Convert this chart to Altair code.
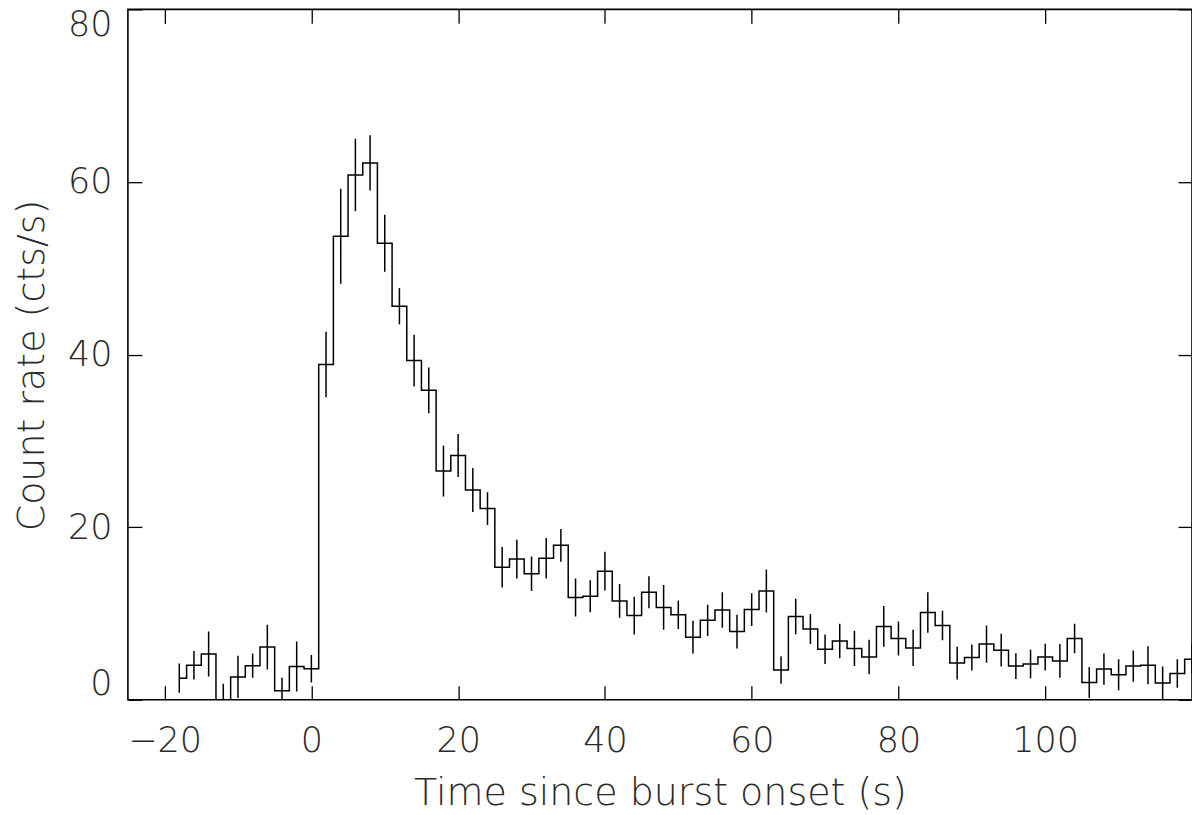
import altair as alt
import pandas as pd

# Bin centres (s), count rates (cts/s) and 1-sigma errors
time_s = [-18, -16, -14, -12, -10, -8, -6, -4, -2, 0,
          2, 4, 6, 8, 10, 12, 14, 16, 18, 20,
          22, 24, 26, 28, 30, 32, 34, 36, 38, 40,
          42, 44, 46, 48, 50, 52, 54, 56, 58, 60,
          62, 64, 66, 68, 70, 72, 74, 76, 78, 80,
          82, 84, 86, 88, 90, 92, 94, 96, 98, 100,
          102, 104, 106, 108, 110, 112, 114, 116, 118, 120]
rate = [2.5, 4.0, 5.3, 0.0, 2.65, 3.95, 6.1, 1.05, 3.85, 3.6,
        38.85, 53.7, 60.8, 62.2, 52.9, 45.6, 39.3, 35.85, 26.5, 28.3,
        24.3, 22.15, 15.35, 16.3, 14.6, 16.4, 17.9, 11.85, 12.0, 14.9,
        11.45, 9.75, 12.45, 10.7, 9.85, 7.25, 9.2, 10.4, 7.9, 10.45,
        12.6, 3.45, 9.65, 8.2, 5.85, 6.8, 5.95, 4.95, 8.5, 7.1,
        6.0, 10.1, 8.6, 4.25, 4.9, 6.45, 5.75, 3.9, 4.15, 4.95,
        4.5, 7.1, 2.0, 3.55, 2.9, 3.9, 4.0, 1.95, 3.05, 4.7]
err = [1.7, 1.65, 2.6, 1.85, 2.45, 1.4, 2.6, 1.5, 2.9, 1.6,
       3.8, 5.5, 4.2, 3.2, 3.3, 2.1, 3.0, 2.65, 2.95, 2.5,
       2.55, 1.9, 2.35, 2.25, 2.0, 2.35, 1.9, 2.2, 1.85, 2.25,
       1.95, 2.2, 1.85, 2.6, 1.65, 1.9, 1.8, 2.05, 1.95, 1.9,
       2.5, 1.6, 2.05, 1.75, 1.7, 2.0, 2.05, 2.0, 2.35, 1.97,
       2.1, 2.35, 1.7, 1.9, 1.5, 2.15, 1.9, 1.5, 1.65, 1.55,
       1.95, 1.7, 1.8, 1.8, 1.8, 1.8, 2.2, 1.9, 1.65, 1.7]

x_ticks = [-20, 0, 20, 40, 60, 80, 100]
y_ticks = [0, 20, 40, 60, 80]
x_title = "Time since burst onset (s)"
y_title = "Count rate (cts/s)"

df = pd.DataFrame({"t": time_s, "rate": rate, "err": err})
df["lo"] = df["rate"] - df["err"]
df["hi"] = df["rate"] + df["err"]

FONT = "DejaVu Sans"
TXT = "#2a2a2a"

xscale = alt.Scale(domain=[-25, 120], nice=False, zero=False)
yscale = alt.Scale(domain=[0, 80], nice=False, zero=False)

common_axis = dict(grid=False, domain=False, tickSize=14, offset=-14,
                   tickColor="black", tickWidth=1.3)

x_bottom = alt.Axis(orient="bottom", values=x_ticks, title=x_title,
                    labelPadding=24, labelFont=FONT, labelFontSize=35,
                    labelFontWeight=200, labelColor=TXT,
                    titleFont=FONT, titleFontSize=38, titleFontWeight=200,
                    titleColor=TXT, titlePadding=16, **common_axis)
y_left = alt.Axis(orient="left", values=y_ticks, title=y_title,
                  labelPadding=16, labelFlush=True, labelFlushOffset=2,
                  labelFont=FONT,
                  labelFontSize=35, labelFontWeight=200, labelColor=TXT,
                  titleFont=FONT, titleFontSize=38, titleFontWeight=200,
                  titleColor=TXT, titlePadding=16, titleY=356,
                  **common_axis)
x_top = alt.Axis(orient="top", values=x_ticks, labels=False, title=None,
                 **common_axis)
y_right = alt.Axis(orient="right", values=y_ticks, labels=False, title=None,
                   **common_axis)

line = alt.Chart(df).mark_line(interpolate="step", color="black",
                               strokeWidth=1.5, clip=True).encode(
    x=alt.X("t:Q", scale=xscale, axis=x_bottom),
    y=alt.Y("rate:Q", scale=yscale, axis=y_left),
)

bars = alt.Chart(df).mark_rule(color="black", strokeWidth=1.5,
                               clip=True).encode(
    x=alt.X("t:Q", scale=xscale, axis=x_top),
    y=alt.Y("lo:Q", scale=yscale, axis=y_right),
    y2="hi:Q",
)

chart = (
    alt.layer(line, bars)
    .resolve_axis(x="independent", y="independent")
    .properties(
        width=1065, height=691,
        autosize=alt.AutoSizeParams(type="none"),
        padding={"left": 120, "top": 1, "right": 0, "bottom": 114},
        background="white",
    )
    .configure_view(stroke="black", strokeWidth=1.6)
)

chart.save("out.html", embed_options={"renderer": "svg", "actions": False})
